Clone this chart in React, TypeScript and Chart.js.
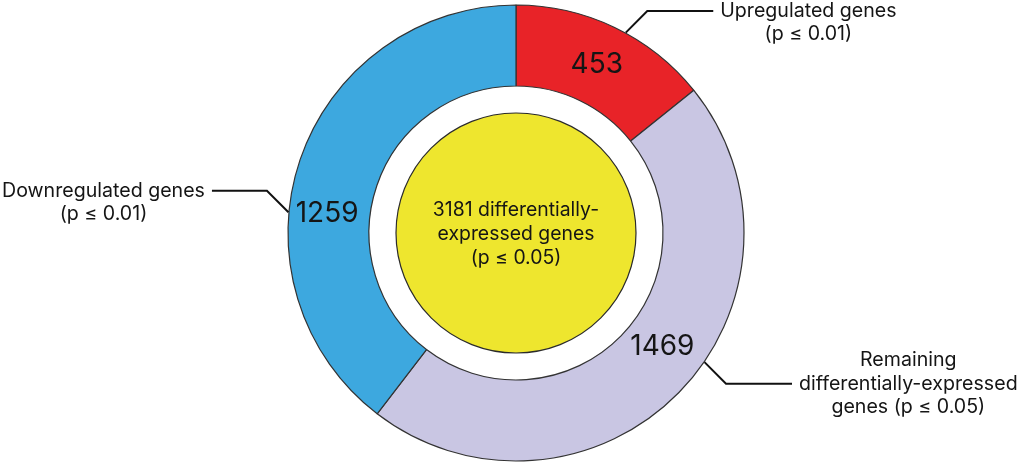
import React, { useEffect, useRef } from "react";
import { Chart, registerables } from "chart.js";

Chart.register(...registerables);

// ---- data ----
const categories = [
  "Upregulated genes (p ≤ 0.01)",
  "Remaining differentially-expressed genes (p ≤ 0.05)",
  "Downregulated genes (p ≤ 0.01)",
];
const ringValues = [453, 1469, 1259];
const totalValue = [3181];
const centerLines = ["3181 differentially-", "expressed genes", "(p ≤ 0.05)"];
const calloutLines = [
  ["Upregulated genes", "(p ≤ 0.01)"],
  ["Remaining", "differentially-expressed", "genes (p ≤ 0.05)"],
  ["Downregulated genes", "(p ≤ 0.01)"],
];

// ---- styles ----
const ringColors = ["#E82328", "#C9C6E3", "#3DA8DF"];
const coreColor = "#EEE62E";
const FONT = "Inter, 'Noto Sans', sans-serif";
// label placement inside each segment (fraction of angle, fraction of ring width)
const numberAngleFrac = [0.5, 0.46, 0.41];
const numberRadiusFrac = [0.49, 0.47, 0.53];
// callout leader placement
const calloutAngleFrac = [0.56, 0.44, 0.405];
const calloutHorizLen = [66, 66, 55];
const calloutAnchorLine = [0, 1, 0];

const labelPlugin = {
  id: "ringLabels",
  afterDatasetsDraw(chart: any) {
    const ctx = chart.ctx as CanvasRenderingContext2D;
    const ring = chart.getDatasetMeta(0).data as any[];
    const core = chart.getDatasetMeta(2).data[0] as any;
    ctx.save();

    // outline of the core disc
    ctx.beginPath();
    ctx.arc(core.x, core.y, core.outerRadius, 0, Math.PI * 2);
    ctx.lineWidth = 1.2;
    ctx.strokeStyle = "#2a2a2a";
    ctx.stroke();

    // center text
    ctx.fillStyle = "#151515";
    ctx.textAlign = "center";
    ctx.textBaseline = "middle";
    ctx.font = `19.4px ${FONT}`;
    centerLines.forEach((t, j) => {
      ctx.fillText(t, core.x, core.y + 1 + (j - 1) * 24);
    });

    // numbers in ring
    ctx.font = `28px ${FONT}`;
    ring.forEach((arc, i) => {
      const a = arc.startAngle + numberAngleFrac[i] * (arc.endAngle - arc.startAngle);
      const r = arc.innerRadius + numberRadiusFrac[i] * (arc.outerRadius - arc.innerRadius);
      ctx.fillText(String(ringValues[i]), arc.x + r * Math.cos(a), arc.y + r * Math.sin(a));
    });

    // callouts
    ctx.font = `19.6px ${FONT}`;
    ctx.strokeStyle = "#111";
    ctx.lineWidth = 2;
    ring.forEach((arc, i) => {
      const a = arc.startAngle + calloutAngleFrac[i] * (arc.endAngle - arc.startAngle);
      const r = arc.outerRadius + 0.5;
      const x0 = arc.x + r * Math.cos(a);
      const y0 = arc.y + r * Math.sin(a);
      const sx = Math.cos(a) >= 0 ? 1 : -1;
      const sy = Math.sin(a) >= 0 ? 1 : -1;
      const x1 = x0 + sx * 21.5;
      const y1 = y0 + sy * 21.5;
      const x2 = x1 + sx * calloutHorizLen[i];
      ctx.beginPath();
      ctx.moveTo(x0, y0);
      ctx.lineTo(x1, y1);
      ctx.lineTo(x2, y1);
      ctx.stroke();
      const lines = calloutLines[i];
      const w = Math.max(...lines.map((t) => ctx.measureText(t).width));
      const cx = x2 + sx * (7 + w / 2);
      lines.forEach((t, j) => {
        ctx.fillText(t, cx, y1 + (j - calloutAnchorLine[i]) * 23.5);
      });
    });
    ctx.restore();
  },
};

export default function App() {
  const ref = useRef<HTMLCanvasElement>(null);
  useEffect(() => {
    if (!ref.current) return;
    const chart = new Chart(ref.current, {
      type: "doughnut",
      data: {
        labels: categories,
        datasets: [
          {
            data: ringValues,
            backgroundColor: ringColors,
            borderColor: "#333",
            borderWidth: 1.2,
            weight: 81,
          } as any,
          {
            data: [1],
            backgroundColor: "rgba(0,0,0,0)",
            borderWidth: 0,
            weight: 27,
          } as any,
          {
            data: totalValue,
            backgroundColor: coreColor,
            borderWidth: 0,
            weight: 120,
          } as any,
        ],
      },
      options: {
        responsive: false,
        animation: false,
        radius: 228,
        cutout: 0,
        layout: { padding: { left: 8, right: 0, top: 0, bottom: 0 } },
        plugins: {
          legend: { display: false },
          tooltip: { enabled: false },
        },
      } as any,
      plugins: [labelPlugin],
    });
    return () => chart.destroy();
  }, []);
  return (
    <div style={{ position: "fixed", left: 0, top: 0, width: 1024, height: 466, background: "#fff" }}>
      <canvas ref={ref} width={1024} height={466} />
    </div>
  );
}
